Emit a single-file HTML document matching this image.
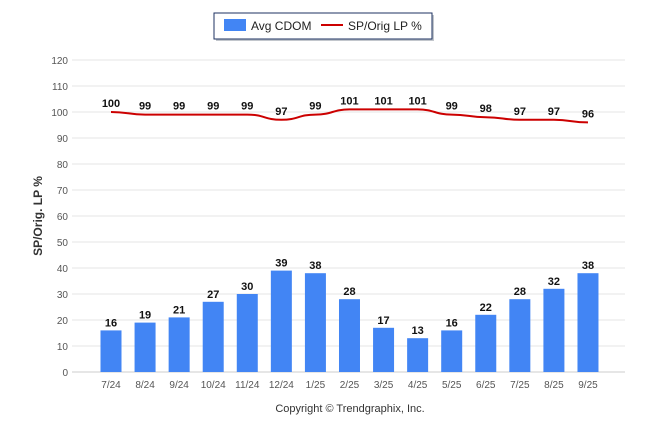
<!DOCTYPE html>
<html><head><meta charset="utf-8"><style>
body{margin:0;background:#fff;font-family:"Liberation Sans",Arial,sans-serif}
svg{display:block}
</style></head><body>
<svg id="chart" width="646" height="434" xmlns="http://www.w3.org/2000/svg">
<g>
<rect x="216" y="15" width="218" height="26" fill="#9aa0aa" opacity="0.6"/>
<rect x="214" y="13" width="218" height="26" fill="#fff" stroke="#1c3160" stroke-width="1"/>
<rect x="224" y="19" width="22" height="12" fill="#4285f4"/>
<text x="251" y="30" font-size="12" fill="#222">Avg CDOM</text>
<line x1="321" y1="25" x2="343" y2="25" stroke="#cc0000" stroke-width="2"/>
<text x="348" y="30" font-size="12" fill="#222">SP/Orig LP %</text>
</g>
<text transform="translate(42,216) rotate(-90)" text-anchor="middle" font-size="12" font-weight="bold" fill="#333">SP/Orig. LP %</text>
<text x="350" y="412" text-anchor="middle" font-size="11" fill="#333">Copyright © Trendgraphix, Inc.</text>
<g id="grid"></g><g id="bars"></g><g id="line"></g><g id="labels"></g>
</svg>
<script>
const categories=["7/24","8/24","9/24","10/24","11/24","12/24","1/25","2/25","3/25","4/25","5/25","6/25","7/25","8/25","9/25"];
const cdom=[16,19,21,27,30,39,38,28,17,13,16,22,28,32,38];
const lp=[100,99,99,99,99,97,99,101,101,101,99,98,97,97,96];
const yTicks=[0,10,20,30,40,50,60,70,80,90,100,110,120];
const NS="http://www.w3.org/2000/svg";
const y=v=>372-v*2.6;
const x=i=>111+i*34.07;
function mk(tag,attrs,parent,text){const e=document.createElementNS(NS,tag);for(const k in attrs)e.setAttribute(k,attrs[k]);if(text!==undefined)e.textContent=text;document.getElementById(parent).appendChild(e);return e;}
yTicks.forEach(t=>{
 const l=mk("line",{x1:72,x2:625,y1:y(t),y2:y(t),stroke:t===0?"#ccc":"#e6e6e6","stroke-width":1},"grid");
 
 
 const tx=mk("text",{x:68,y:y(t)+4,"text-anchor":"end","font-size":"10",fill:"#555"},"grid",t);
 
 
});
categories.forEach((c,i)=>{
 const b=mk("rect",{x:x(i)-10.5,y:y(cdom[i]),width:21,height:y(0)-y(cdom[i]),fill:"#4285f4"},"bars");
 
 
 const bl=mk("text",{x:x(i),y:y(cdom[i])-4,"text-anchor":"middle","font-size":"11","font-weight":"bold",fill:"#111"},"labels",cdom[i]);
 
 
 const ll=mk("text",{x:x(i),y:y(lp[i])-5,"text-anchor":"middle","font-size":"11","font-weight":"bold",fill:"#111"},"labels",lp[i]);
 
 
 const tk=mk("text",{x:x(i),y:388,"text-anchor":"middle","font-size":"10",fill:"#555"},"labels",c);
 
 
});
let d="";
lp.forEach((v,i)=>{
 if(i===0){d+="M"+x(0)+","+y(v);}
 else{const x0=x(i-1),x1=x(i),cx=(x0+x1)/2;d+=" C"+cx+","+y(lp[i-1])+" "+cx+","+y(v)+" "+x1+","+y(v);}
});
const p=mk("path",{d:d,fill:"none",stroke:"#cc0000","stroke-width":2},"line");


</script>
</body></html>
